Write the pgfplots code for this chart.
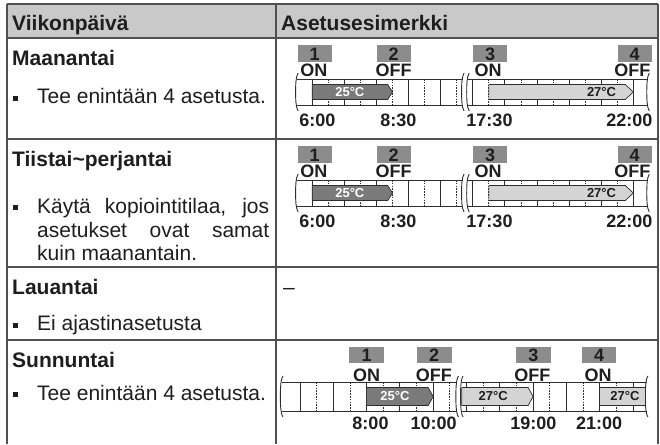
\documentclass[border=0pt]{standalone}
\usepackage{pgfplots}
\pgfplotsset{compat=1.18}
\usepackage{fontspec}
\setmainfont{Liberation Sans}[BoldFont={Liberation Sans Bold}]
\newfontfamily\bfam{Liberation Sans Bold}
\definecolor{hdr}{HTML}{C9C9C9}
\definecolor{tblc}{HTML}{505050}
\definecolor{boxg}{HTML}{8C8C8C}
\definecolor{darkar}{HTML}{7A7A7A}
\definecolor{lightar}{HTML}{D4D4D4}
\definecolor{ink}{HTML}{1E1E1E}
\definecolor{sline}{HTML}{2E2E2E}

\newcommand\fa{\fontsize{21}{25}\selectfont}
\newcommand\fab{\bfam\fontsize{21}{25}\selectfont}
\newcommand\fb{\bfam\fontsize{18}{20}\selectfont}
\newcommand\fd{\bfam\fontsize{18}{20}\selectfont}
\newcommand\fc{\bfam\fontsize{13}{15}\selectfont}
\newcommand\bul{\rule[3pt]{5pt}{5pt}}

\pgfplotsset{
 tlax/.style={hide axis, clip=false, scale only axis, y=1pt, y dir=reverse, ymin=0, ymax=100, xmin=5, xmax=16.6, anchor=north west},
 sl/.style={draw=sline, line width=0.9pt, mark=none},
}
\tikzset{
 vs/.style={draw=sline, line width=0.9pt},
 vd/.style={draw=sline, line width=0.9pt, dash pattern=on 1.6pt off 1.2pt},
 tbl/.style={draw=tblc, line width=1.2pt},
 txt/.style={anchor=base west, inner sep=0pt, text=ink},
 lbl/.style={anchor=base, inner sep=0pt, text=ink},
}

% wavy break: #1 x, #2 top, #3 bottom, #4 mid
\newcommand\wavy[4]{\draw[vs] ([xshift=1.2pt,yshift=6pt]axis cs:#1,#2) .. controls +(-2.5pt,-4pt) and +(0pt,6pt) .. ([xshift=-1.3pt]axis cs:#1,#4) .. controls +(0pt,-6pt) and +(-2.5pt,4pt) .. ([xshift=1.2pt,yshift=-6pt]axis cs:#1,#3);}

\newcommand\rowAB{%
 \addplot[sl] coordinates {(5.52,40) (10.69,40)};
 \addplot[sl] coordinates {(5.52,66) (10.69,66)};
 \addplot[sl] coordinates {(10.85,40) (16.46,40)};
 \addplot[sl] coordinates {(10.85,66) (16.46,66)};
 \pgfplotsinvokeforeach{6,7,8,9,10,11,12,13,14,15,16}{\draw[vs] (axis cs:##1,40) -- (axis cs:##1,66);}
 \pgfplotsinvokeforeach{6.5,7.5,8.5,9.5,10.5,11.5,12.5,13.5,14.5,15.5}{\draw[vd] (axis cs:##1,40) -- (axis cs:##1,66);}
 \wavy{5.52}{40}{66}{53}\wavy{10.69}{40}{66}{53}\wavy{10.85}{40}{66}{53}\wavy{16.46}{40}{66}{53}
 \addplot[fill=darkar, draw=sline, line width=0.7pt, mark=none] coordinates {(6,45.5) (8.35,45.5) (8.5,53) (8.35,60.5) (6,60.5) (6,45.5)};
 \addplot[fill=lightar, draw=sline, line width=0.7pt, mark=none] coordinates {(11.5,45.5) (15.75,45.5) (16,53) (15.75,60.5) (11.5,60.5) (11.5,45.5)};
 \node[font=\fc, text=white, inner sep=0pt] at (axis cs:7.17,53) {25°C};
 \node[font=\fc, text=ink, inner sep=0pt] at (axis cs:15.01,53) {27°C};
 \fill[boxg] (axis cs:5.54,6) rectangle (axis cs:6.60,23);
 \fill[boxg] (axis cs:8.00,6) rectangle (axis cs:9.06,23);
 \fill[boxg] (axis cs:11.01,6) rectangle (axis cs:12.07,23);
 \fill[boxg] (axis cs:15.51,6) rectangle (axis cs:16.57,23);
 \node[lbl, font=\fd] at (axis cs:6.07,21) {1};
 \node[lbl, font=\fd] at (axis cs:8.53,21) {2};
 \node[lbl, font=\fd] at (axis cs:11.54,21) {3};
 \node[lbl, font=\fd] at (axis cs:16.04,21) {4};
 \node[lbl, font=\fb] at (axis cs:6.05,37.7) {ON};
 \node[lbl, font=\fb] at (axis cs:8.53,37.7) {OFF};
 \node[lbl, font=\fb] at (axis cs:11.48,37.7) {ON};
 \node[lbl, font=\fb] at (axis cs:15.97,37.7) {OFF};
 \node[lbl, font=\fb] at (axis cs:6.16,87.7) {6:00};
 \node[lbl, font=\fb] at (axis cs:8.685,87.7) {8:30};
 \node[lbl, font=\fb] at (axis cs:11.52,87.7) {17:30};
 \node[lbl, font=\fb] at (axis cs:15.88,87.7) {22:00};
}

\begin{document}
\begin{tikzpicture}
\begin{axis}[hide axis, clip=false, scale only axis, x=1pt, y=1pt, xmin=0, xmax=660, ymin=0, ymax=444, y dir=reverse, anchor=north west, at={(0pt,0pt)}]
 \fill[hdr] (axis cs:7,4) rectangle (axis cs:658,38);
 \draw[tbl] (axis cs:7,4) -- (axis cs:658,4);
 \draw[tbl] (axis cs:7,38) -- (axis cs:658,38);
 \draw[tbl] (axis cs:7,139) -- (axis cs:658,139);
 \draw[tbl] (axis cs:7,267) -- (axis cs:658,267);
 \draw[tbl] (axis cs:7,340) -- (axis cs:658,340);
 \draw[tbl] (axis cs:7,4) -- (axis cs:7,444);
 \draw[tbl] (axis cs:276,4) -- (axis cs:276,444);
 \draw[tbl] (axis cs:658,4) -- (axis cs:658,444);
 \node[txt, font=\fab] at (axis cs:12,30) {Viikonpäivä};
 \node[txt, font=\fab] at (axis cs:281,30) {Asetusesimerkki};
 \node[txt, font=\fab] at (axis cs:12,65) {Maanantai};
 \node[txt, font=\fa] at (axis cs:13,103.5) {\bul};
 \node[txt, font=\fa] at (axis cs:37,103.5) {Tee enintään 4 asetusta.};
 \node[txt, font=\fab] at (axis cs:12,166) {Tiistai\textasciitilde perjantai};
 \node[txt, font=\fa] at (axis cs:13,213) {\bul};
 \node[txt, font=\fa] at (axis cs:37,213) {\makebox[232pt][s]{Käytä kopiointitilaa, jos}};
 \node[txt, font=\fa] at (axis cs:37,237) {\makebox[232pt][s]{asetukset ovat samat}};
 \node[txt, font=\fa] at (axis cs:37,260) {kuin maanantain.};
 \node[txt, font=\fab] at (axis cs:12,294.5) {Lauantai};
 \node[txt, font=\fa] at (axis cs:283,294.5) {–};
 \node[txt, font=\fa] at (axis cs:13,330.5) {\bul};
 \node[txt, font=\fa] at (axis cs:37,330.5) {Ei ajastinasetusta};
 \node[txt, font=\fab] at (axis cs:12,367.5) {Sunnuntai};
 \node[txt, font=\fa] at (axis cs:13,400) {\bul};
 \node[txt, font=\fa] at (axis cs:37,400) {Tee enintään 4 asetusta.};
\end{axis}
% Maanantai
\begin{axis}[tlax, x=32.1pt, at={(280.2pt,-39pt)}]
 \rowAB
\end{axis}
% Tiistai-perjantai
\begin{axis}[tlax, x=32.1pt, at={(280.2pt,-140pt)}]
 \rowAB
\end{axis}
% Sunnuntai
\begin{axis}[tlax, x=33.3pt, at={(266.7pt,-340pt)}]
 \addplot[sl] coordinates {(5.45,42) (10.72,42)};
 \addplot[sl] coordinates {(5.45,71) (10.72,71)};
 \addplot[sl] coordinates {(10.86,42) (16.41,42)};
 \addplot[sl] coordinates {(10.86,71) (16.41,71)};
 \pgfplotsinvokeforeach{6,7,8,9,10,11,12,13,14,15,16}{\draw[vs] (axis cs:#1,42) -- (axis cs:#1,71);}
 \pgfplotsinvokeforeach{6.5,7.5,8.5,9.5,10.5,11.5,12.5,13.5,14.5,15.5}{\draw[vd] (axis cs:#1,42) -- (axis cs:#1,71);}
 \wavy{5.45}{42}{71}{56.5}\wavy{10.72}{42}{71}{56.5}\wavy{10.86}{42}{71}{56.5}\wavy{16.41}{42}{71}{56.5}
 \addplot[fill=darkar, draw=sline, line width=0.7pt, mark=none] coordinates {(8,47.5) (9.85,47.5) (10,56.5) (9.85,65.5) (8,65.5) (8,47.5)};
 \addplot[fill=lightar, draw=sline, line width=0.7pt, mark=none] coordinates {(10.86,47.5) (12.85,47.5) (13,56.5) (12.85,65.5) (10.86,65.5) (10.86,47.5)};
 \addplot[fill=lightar, draw=sline, line width=0.7pt, mark=none] coordinates {(15,47.5) (16.38,47.5) (16.38,65.5) (15,65.5) (15,47.5)};
 \node[font=\fc, text=white, inner sep=0pt] at (axis cs:8.85,56.5) {25°C};
 \node[font=\fc, text=ink, inner sep=0pt] at (axis cs:11.8,56.5) {27°C};
 \node[font=\fc, text=ink, inner sep=0pt] at (axis cs:15.76,56.5) {27°C};
 \fill[boxg] (axis cs:7.48,7) rectangle (axis cs:8.52,23);
 \fill[boxg] (axis cs:9.51,7) rectangle (axis cs:10.55,23);
 \fill[boxg] (axis cs:12.49,7) rectangle (axis cs:13.53,23);
 \fill[boxg] (axis cs:14.46,7) rectangle (axis cs:15.50,23);
 \node[lbl, font=\fd] at (axis cs:8.0,21.5) {1};
 \node[lbl, font=\fd] at (axis cs:10.03,21.5) {2};
 \node[lbl, font=\fd] at (axis cs:13.01,21.5) {3};
 \node[lbl, font=\fd] at (axis cs:14.98,21.5) {4};
 \node[lbl, font=\fb] at (axis cs:8.0,41) {ON};
 \node[lbl, font=\fb] at (axis cs:10.02,41) {OFF};
 \node[lbl, font=\fb] at (axis cs:12.98,41) {OFF};
 \node[lbl, font=\fb] at (axis cs:14.95,41) {ON};
 \node[lbl, font=\fb] at (axis cs:8.117,89) {8:00};
 \node[lbl, font=\fb] at (axis cs:10.01,89) {10:00};
 \node[lbl, font=\fb] at (axis cs:13.01,89) {19:00};
 \node[lbl, font=\fb] at (axis cs:14.98,89) {21:00};
\end{axis}
\pgfresetboundingbox
\path[use as bounding box] (0pt,0pt) rectangle (660pt,-444pt);
\end{tikzpicture}
\end{document}
